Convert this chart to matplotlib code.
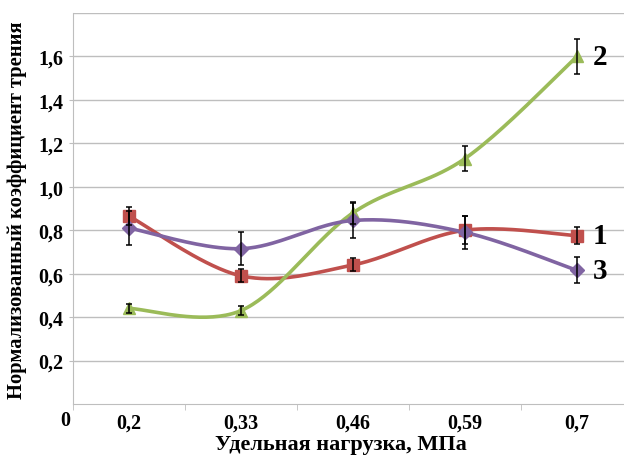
import numpy as np
import matplotlib
matplotlib.use("Agg")
import matplotlib.pyplot as plt
from matplotlib.ticker import FixedLocator, NullFormatter

# --- Data ---
loads = ["0,2", "0,33", "0,46", "0,59", "0,7"]

coef_1 = [0.865, 0.59, 0.64, 0.80, 0.775]
err_1 = [0.04, 0.03, 0.03, 0.065, 0.04]

coef_2 = [0.44, 0.43, 0.88, 1.13, 1.60]
err_2 = [0.02, 0.02, 0.05, 0.057, 0.08]

coef_3 = [0.81, 0.715, 0.845, 0.79, 0.615]
err_3 = [0.08, 0.075, 0.08, 0.075, 0.06]

y_ticks = [0.2, 0.4, 0.6, 0.8, 1.0, 1.2, 1.4, 1.6]
y_labels = ["0,2", "0,4", "0,6", "0,8", "1,0", "1,2", "1,4", "1,6"]

RED = "#C0504D"
GREEN = "#9BBB59"
PURPLE = "#8064A2"
GRID = "#BEBEBE"


def smooth(x, y, n=40):
    # Catmull-Rom style bezier, like spreadsheet "smoothed line"
    x = np.asarray(x, float)
    y = np.asarray(y, float)
    pts = np.column_stack([x, y])
    out = []
    for i in range(len(pts) - 1):
        p0 = pts[i - 1] if i > 0 else pts[i]
        p1 = pts[i]
        p2 = pts[i + 1]
        p3 = pts[i + 2] if i + 2 < len(pts) else pts[i + 1]
        c1 = p1 + (p2 - p0) / 6.0
        c2 = p2 - (p3 - p1) / 6.0
        t = np.linspace(0, 1, n)[:, None]
        seg = ((1 - t) ** 3) * p1 + 3 * ((1 - t) ** 2) * t * c1 + 3 * (1 - t) * t ** 2 * c2 + t ** 3 * p2
        out.append(seg if i == 0 else seg[1:])
    seg = np.vstack(out)
    return seg[:, 0], seg[:, 1]


plt.rcParams["font.family"] = ["Liberation Serif", "DejaVu Serif"]
plt.rcParams["font.weight"] = "bold"

fig = plt.figure(figsize=(6.24, 4.56), dpi=100)
ax = fig.add_axes([73 / 624, 1 - 405 / 456, 560 / 624, 391 / 456])

xs = np.arange(len(loads))

series = [
    (coef_1, err_1, RED, "s", 8.5),
    (coef_2, err_2, GREEN, "^", 9),
    (coef_3, err_3, PURPLE, "D", 7.5),
]

for vals, errs, color, marker, ms in series:
    sx, sy = smooth(xs, vals)
    ax.plot(sx, sy, color=color, lw=2.6, zorder=3, solid_capstyle="round")
    ax.plot(xs, vals, linestyle="none", marker=marker, color=color, ms=ms, zorder=4)
    ax.errorbar(xs, vals, yerr=errs, fmt="none", ecolor="black", elinewidth=1.1,
                capsize=2.5, capthick=1.1, zorder=5)

# curve numbers
for vals, num in [(coef_1, "1"), (coef_2, "2"), (coef_3, "3")]:
    ax.text(xs[-1] + 0.14, vals[-1], num, fontsize=21, fontweight="bold",
            va="center", ha="left", zorder=6)

ax.set_xlim(-0.5, len(loads) - 0.5)
ax.set_ylim(0, 1.8)

ax.set_yticks(y_ticks)
ax.set_yticklabels(y_labels)
ax.set_xticks(xs)
ax.set_xticklabels(loads)
ax.xaxis.set_minor_locator(FixedLocator(np.arange(-0.5, len(loads), 1.0)))
ax.xaxis.set_minor_formatter(NullFormatter())
ax.tick_params(axis="x", which="major", length=0, pad=6, labelsize=14.5)
ax.tick_params(axis="x", which="minor", length=4, color=GRID, direction="out")
ax.tick_params(axis="y", length=3, color=GRID, pad=4, labelsize=14.5)

for lbl in ax.get_xticklabels() + ax.get_yticklabels():
    lbl.set_fontweight("bold")

# zero at the origin corner
ax.annotate("0", xy=(0, 0), xycoords="axes fraction", xytext=(-8, -16),
            textcoords="offset pixels", fontsize=14.5, fontweight="bold",
            ha="center", va="center")

ax.grid(axis="y", color=GRID, lw=1)
ax.axhline(1.8, color=GRID, lw=1)
for side in ["right", "top"]:
    ax.spines[side].set_visible(False)
for side in ["left", "bottom"]:
    ax.spines[side].set_color(GRID)
ax.set_axisbelow(True)

ax.set_ylabel("Нормализованный коэффициент трения", fontsize=14.8, fontweight="bold")
ax.yaxis.set_label_coords(-46 / 560, 0.497)
ax.set_xlabel("Удельная нагрузка, МПа", fontsize=16, fontweight="bold")
ax.xaxis.set_label_coords(268 / 560, -30 / 391)

fig.savefig("out.png", dpi=100)
